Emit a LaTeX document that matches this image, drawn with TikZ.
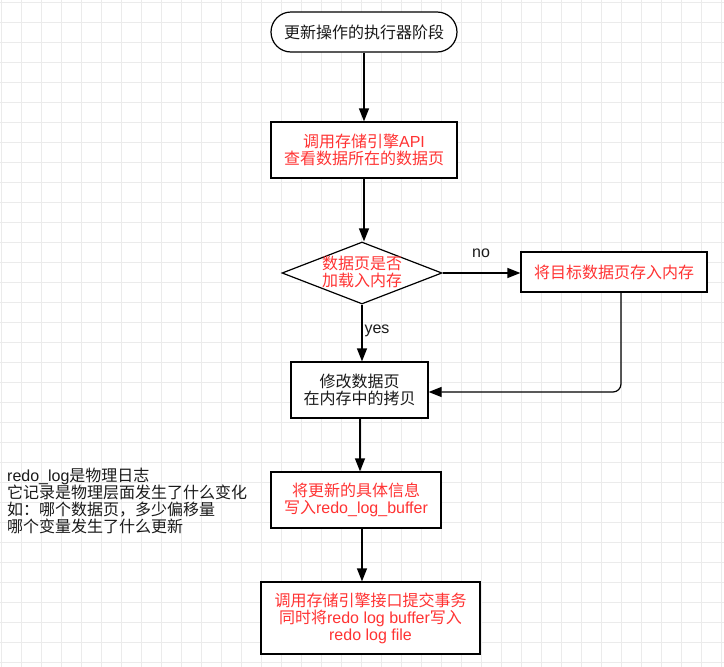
\documentclass[tikz,border=0pt]{standalone}
\usepackage{fontspec}
\setmainfont{Liberation Sans}
\newfontfamily\cjk{Noto Sans CJK SC}
\usetikzlibrary{arrows.meta,shapes.geometric}
\newcommand{\zh}[1]{{\cjk #1}}
\definecolor{gridc}{HTML}{EBEBEB}
\definecolor{redt}{HTML}{FF3333}
\definecolor{darkt}{HTML}{1A1A1A}
\tikzset{
  gridline/.style={draw=gridc, line width=1pt},
  txt/.style={font=\fontsize{16}{17}\selectfont, align=center, inner sep=0pt},
  box/.style={draw=black, line width=1.2pt, fill=white, txt},
  redbox/.style={box, text=redt},
  arr/.style={draw=black, line width=1.2pt, -{Triangle[length=13pt,width=10pt]}},
  lbl/.style={font=\fontsize{16}{17}\selectfont, text=darkt, inner sep=0pt}
}
\begin{document}
\begin{tikzpicture}[x=1pt,y=-1pt]
\useasboundingbox (0,0) rectangle (724,667);
\fill[white] (0,0) rectangle (724,667);
\foreach \x in {1,21,...,721} \draw[gridline] (\x,0) -- (\x,667);
\foreach \y in {2,22,...,662} \draw[gridline] (0,\y) -- (724,\y);

\node[box, text=darkt, rounded corners=20pt, minimum width=186pt, minimum height=40pt] (start) at (364,32) {\zh{更新操作的执行器阶段}};
\node[redbox, minimum width=186pt, minimum height=56pt] (api) at (364,150) {\zh{调用存储引擎}API\\\zh{查看数据所在的数据页}};
\node[diamond, draw=black, line width=1.2pt, fill=white, minimum width=160pt, minimum height=62pt, inner sep=0pt] (dia) at (362,273) {};
\node[txt, text=redt] (diatext) at (362,272) {\zh{数据页是否}\\\zh{加载入内存}};
\node[redbox, minimum width=186pt, minimum height=40pt] (mem) at (614,272) {\zh{将目标数据页存入内存}};
\node[box, text=darkt, minimum width=137pt, minimum height=56pt] (mod) at (359.5,390) {\zh{修改数据页}\\\zh{在内存中的拷贝}};
\node[redbox, minimum width=170pt, minimum height=56pt] (buf) at (356,500) {\zh{将更新的具体信息}\\\zh{写入}redo\_log\_buffer};
\node[redbox, minimum width=219pt, minimum height=72pt] (commit) at (370.5,618) {\zh{调用存储引擎接口提交事务}\\\zh{同时将}redo log buffer\zh{写入}\\redo log file};

\node[txt, text=darkt, align=left, anchor=west] (note) at (7,501) {redo\_log\zh{是物理日志}\\\zh{它记录是物理层面发生了什么变化}\\\zh{如：哪个数据页，多少偏移量}\\\zh{哪个变量发生了什么更新}};

\draw[arr] (start.south) -- (api.north);
\draw[arr] (api.south) -- (api.south |- dia.north);
\draw[arr] (dia.east) -- (dia.east -| mem.west);
\node[lbl] (no) at (481,253) {no};
\draw[arr] (dia.south) -- (dia.south |- mod.north);
\node[lbl] (yes) at (377,331) {yes};
\coordinate (memout) at ([xshift=7pt]mem.south);
\coordinate (modin) at ([yshift=-2pt]mod.east);
\draw[arr, rounded corners=8pt] (memout) |- (modin);
\coordinate (modout) at ([xshift=0.5pt]mod.south);
\draw[arr] (modout) -- (modout |- buf.north);
\coordinate (bufout) at ([xshift=6pt]buf.south);
\draw[arr] (bufout) -- (bufout |- commit.north);
\end{tikzpicture}
\end{document}
